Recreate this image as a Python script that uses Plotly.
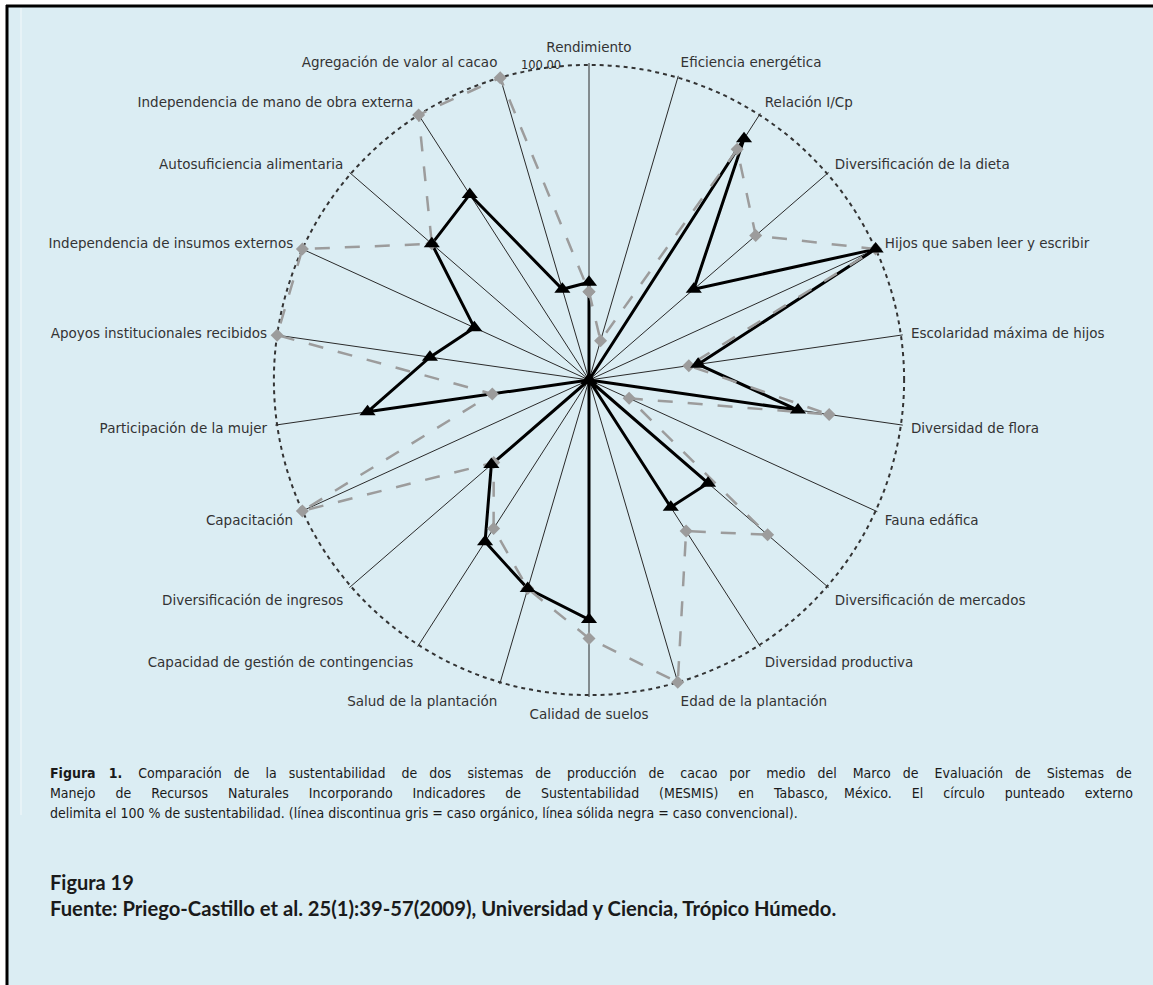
import plotly.graph_objects as go

categories = [
    "Rendimiento", "Eficiencia energética", "Relación I/Cp", "Diversificación de la dieta",
    "Hijos que saben leer y escribir", "Escolaridad máxima de hijos", "Diversidad de flora",
    "Fauna edáfica", "Diversificación de mercados", "Diversidad productiva",
    "Edad de la plantación", "Calidad de suelos", "Salud de la plantación",
    "Capacidad de gestión de contingencias", "Diversificación de ingresos", "Capacitación",
    "Participación de la mujer", "Apoyos institucionales recibidos",
    "Independencia de insumos externos", "Autosuficiencia alimentaria",
    "Independencia de mano de obra externa", "Agregación de valor al cacao",
]

# solid black line = conventional case
conventional = [31, 0, 91, 44, 100, 35, 67, 0, 50, 48, 0, 76, 69, 61, 41, 0, 71, 51, 40, 66, 70, 30]
# dashed gray line = organic case
organic = [28, 13, 87, 70, 100, 32, 77, 14, 75, 57, 100, 82, 69, 56, 40, 100, 31, 100, 100, 66, 100, 100]

radial_ticks = [100]
radial_ticktext = ["100.00"]

caption_lines = [
    "<b>Figura 1.</b> Comparación de la sustentabilidad de dos sistemas de producción de cacao por medio del Marco de Evaluación de Sistemas de",
    "Manejo de Recursos Naturales Incorporando Indicadores de Sustentabilidad (MESMIS) en Tabasco, México. El círculo punteado externo",
    "delimita el 100 % de sustentabilidad. (línea discontinua gris = caso orgánico, línea sólida negra = caso convencional).",
]
# extra non-breaking spaces per gap to imitate the justified lines of the original caption
caption_extra = [2.5, 3.95, 0]
figure_title = "Figura 19"
source_text = "Fuente: Priego-Castillo et al. 25(1):39-57(2009), Universidad y Ciencia, Trópico Húmedo."

BG = "#DBEDF3"
W, H = 1153, 985
NBSP = "\u00a0"


def px_x(x):
    return x / W


def px_y(y):
    return 1 - y / H


def justify(text, extra):
    if extra <= 0:
        return text
    parts = text.split(" ")
    out = parts[0]
    acc = 0.0
    for p in parts[1:]:
        acc += extra
        n = int(round(acc))
        acc -= n
        out += " " + NBSP * n + p
    return out


theta_closed = categories + [categories[0]]
conv_closed = conventional + [conventional[0]]
org_closed = organic + [organic[0]]

fig = go.Figure()
fig.add_trace(go.Scatterpolar(
    r=conv_closed, theta=theta_closed, mode="lines",
    line=dict(color="black", width=3), showlegend=False, hoverinfo="skip"))
fig.add_trace(go.Scatterpolar(
    r=org_closed, theta=theta_closed, mode="lines+markers",
    line=dict(color="#9c9c9c", width=2.5, dash="longdash"),
    marker=dict(symbol="diamond", size=10, color="#9c9c9c"),
    showlegend=False, name="Orgánico"))
fig.add_trace(go.Scatterpolar(
    r=conventional, theta=categories, mode="markers",
    marker=dict(symbol="triangle-up", size=14, color="black"),
    showlegend=False, name="Convencional"))

cx0, cy0, R = 589, 380, 317
fig.update_layout(
    width=W, height=H, autosize=False,
    margin=dict(l=0, r=0, t=0, b=0),
    paper_bgcolor="white", plot_bgcolor=BG,
    polar=dict(
        bgcolor=BG,
        domain=dict(x=[px_x(cx0 - R), px_x(cx0 + R)], y=[px_y(cy0 + R), px_y(cy0 - R)]),
        angularaxis=dict(
            rotation=90, direction="clockwise", type="category",
            showline=False, showgrid=True, gridcolor="#2a2a2a", gridwidth=1.2,
            ticks="outside", ticklen=5, tickcolor="rgba(0,0,0,0)",
            tickfont=dict(family="DejaVu Sans", size=13.5, color="#333333"),
        ),
        radialaxis=dict(
            range=[0, 100.6], tickvals=radial_ticks,
            ticktext=[t + NBSP * 7 for t in radial_ticktext],
            showline=False, ticks="", showgrid=True, gridcolor="#333333", gridwidth=2,
            griddash="4px,4px", side="counterclockwise", angle=90, tickangle=90,
            tickfont=dict(family="DejaVu Sans", size=11.5, color="#2a2a2a"),
        ),
    ),
)

shapes = [
    dict(type="rect", xref="paper", yref="paper", x0=px_x(7), x1=1, y0=0, y1=px_y(6),
         fillcolor=BG, line=dict(width=0), layer="below"),
    dict(type="line", xref="paper", yref="paper", x0=px_x(6), x1=1, y0=px_y(6), y1=px_y(6),
         line=dict(color="black", width=3)),
    dict(type="line", xref="paper", yref="paper", x0=px_x(7), x1=px_x(7), y0=0, y1=px_y(5),
         line=dict(color="black", width=3)),
    dict(type="line", xref="paper", yref="paper", x0=px_x(21), x1=px_x(21), y0=px_y(815), y1=px_y(8),
         line=dict(color="white", width=1), opacity=0.7),
]
fig.update_layout(shapes=shapes)

cap_font = dict(family="Liberation Sans Narrow, DejaVu Sans Condensed, Liberation Sans", size=14, color="#1a1a1a")
ann = []
for k, line in enumerate(caption_lines):
    ann.append(dict(text=justify(line, caption_extra[k]), xref="paper", yref="paper",
                    x=px_x(48), y=px_y(773 + 20 * k),
                    xanchor="left", yanchor="middle", showarrow=False, font=cap_font))
ann.append(dict(text="<b>" + figure_title + "</b>", xref="paper", yref="paper", x=px_x(48), y=px_y(882),
                xanchor="left", yanchor="middle", showarrow=False,
                font=dict(family="Lato", size=20, color="#1a1a1a")))
ann.append(dict(text="<b>" + source_text + "</b>", xref="paper", yref="paper", x=px_x(48), y=px_y(908),
                xanchor="left", yanchor="middle", showarrow=False,
                font=dict(family="Lato", size=20.2, color="#1a1a1a")))
fig.update_layout(annotations=ann)

fig.write_html(
    "out.html",
    config={"displayModeBar": False},
    post_script="document.body.style.margin='0';document.body.style.overflow='hidden';",
)
